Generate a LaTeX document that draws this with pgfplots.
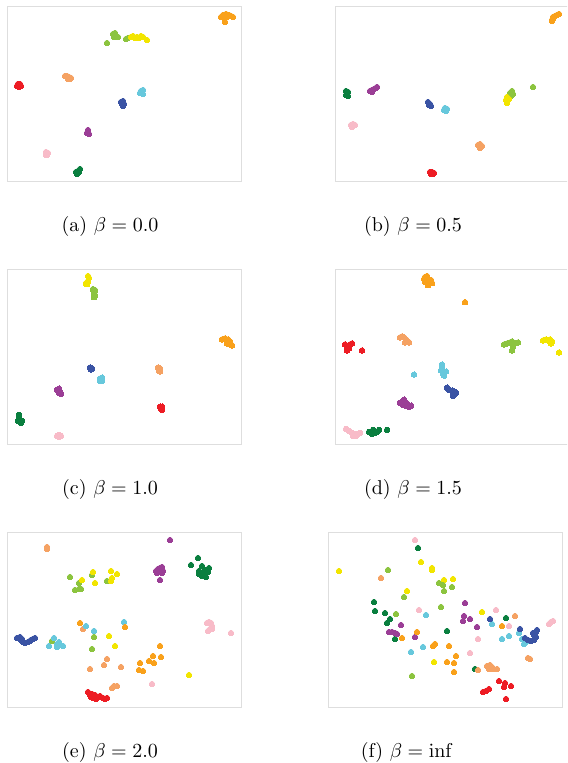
\documentclass[border=0pt]{standalone}
\usepackage{pgfplots}
\pgfplotsset{compat=1.18}
\definecolor{cred}{HTML}{ED1C24}
\definecolor{corange}{HTML}{F9A11B}
\definecolor{csalmon}{HTML}{F5A263}
\definecolor{cyellow}{HTML}{F2E500}
\definecolor{cygreen}{HTML}{8CC43F}
\definecolor{cdgreen}{HTML}{0A7F3F}
\definecolor{ccyan}{HTML}{67C8DC}
\definecolor{cblue}{HTML}{3A53A4}
\definecolor{cpurple}{HTML}{9B3E96}
\definecolor{cpink}{HTML}{F8BBC8}
\pgfplotsset{
  panel/.style={scale only axis, width=117pt, height=87.5pt, anchor=south west,
    y dir=reverse, xtick=\empty, ytick=\empty,
    axis line style={draw=black!13, line width=0.5pt}},
  pt/.style={only marks, mark=*, mark size=1.4pt, color=#1, mark options={draw=#1, fill=#1, line width=0pt}}
}
\begin{document}
\begin{tikzpicture}
\path[use as bounding box, clip] (0pt,0pt) rectangle (283.5pt,-381.5pt);
% (a)
\begin{axis}[panel, at={(3.5pt,-91pt)}, xmin=7, xmax=241, ymin=7, ymax=182]
\addplot[pt=corange] coordinates {(221,17)(223,15)(226,14)(229,15)(231,16)(233,17)(224,18)(227,17)(225,22)};
\addplot[pt=cygreen] coordinates {(113,34)(115,33)(116,36)(118,37)(114,37)(107,43)(126,39)(128,38)};
\addplot[pt=cyellow] coordinates {(131,37)(133,36)(135,38)(137,37)(139,38)(141,36)(143,37)(147,40)};
\addplot[pt=csalmon] coordinates {(65,76)(67,76)(69,77)(71,78)(68,79)(70,79)};
\addplot[pt=cred] coordinates {(18,84)(20,84)(17,86)(19,87)(21,86)};
\addplot[pt=ccyan] coordinates {(141,91)(143,90)(142,93)(140,93)(143,94)};
\addplot[pt=cblue] coordinates {(121,102)(123,101)(124,104)(123,106)(122,104)};
\addplot[pt=cpurple] coordinates {(88,130)(87,133)(89,134)};
\addplot[pt=cpink] coordinates {(46,152)(48,153)(46,155)(47,155)};
\addplot[pt=cdgreen] coordinates {(76,172)(78,171)(80,169)(77,174)(79,172)};
\end{axis}
% (b)
\begin{axis}[panel, at={(167.5pt,-91pt)}, xmin=335, xmax=569, ymin=7, ymax=182]
\addplot[pt=corange] coordinates {(552,20)(553,17)(555,16)(557,15)(559,14)(553,19)(552,21)};
\addplot[pt=cdgreen] coordinates {(346,91)(348,92)(346,95)(348,96)(347,94)};
\addplot[pt=cpurple] coordinates {(370,91)(372,90)(374,89)(376,88)(377,87)(372,92)};
\addplot[pt=cblue] coordinates {(428,102)(430,104)(431,106)(429,105)};
\addplot[pt=ccyan] coordinates {(445,108)(447,109)(446,111)(444,110)};
\addplot[pt=cygreen] coordinates {(510,93)(512,91)(513,94)(511,96)(533,87)};
\addplot[pt=cyellow] coordinates {(507,97)(509,99)(506,100)(507,103)};
\addplot[pt=cpink] coordinates {(351,125)(353,124)(355,125)(352,127)};
\addplot[pt=csalmon] coordinates {(478,145)(480,144)(482,146)(480,148)};
\addplot[pt=cred] coordinates {(430,172)(432,172)(434,173)(431,174)(433,174)};
\end{axis}
% (c)
\begin{axis}[panel, at={(3.5pt,-222pt)}, xmin=7, xmax=241, ymin=270, ymax=444]
\addplot[pt=cyellow] coordinates {(88,277)(89,279)(88,282)(86,284)(87,285)};
\addplot[pt=cygreen] coordinates {(93,290)(95,291)(94,294)(95,296)(94,298)};
\addplot[pt=corange] coordinates {(222,340)(225,339)(228,340)(230,342)(231,345)(227,344)(232,346)};
\addplot[pt=cblue] coordinates {(90,368)(92,369)(91,370)};
\addplot[pt=csalmon] coordinates {(158,368)(160,369)(159,371)(160,372)};
\addplot[pt=ccyan] coordinates {(100,379)(102,378)(102,381)(100,381)};
\addplot[pt=cpurple] coordinates {(57,390)(59,389)(60,392)(61,394)(59,393)};
\addplot[pt=cred] coordinates {(160,407)(162,407)(161,409)(162,410)};
\addplot[pt=cdgreen] coordinates {(19,415)(19,418)(18,421)(20,421)(21,423)(22,421)};
\addplot[pt=cpink] coordinates {(57,436)(59,435)(61,436)(59,437)};
\end{axis}
% (d)
\begin{axis}[panel, at={(167.5pt,-222pt)}, xmin=335, xmax=569, ymin=270, ymax=444]
\addplot[pt=corange] coordinates {(425,278)(427,277)(428,280)(431,281)(432,284)(428,286)(425,283)(424,280)(465,303)};
\addplot[pt=csalmon] coordinates {(400,338)(402,337)(404,338)(406,340)(408,342)(409,343)(405,343)};
\addplot[pt=cred] coordinates {(345,345)(347,347)(350,345)(352,344)(349,349)(347,351)(362,351)};
\addplot[pt=cygreen] coordinates {(504,345)(507,344)(510,343)(512,342)(515,344)(518,343)(513,347)(512,351)};
\addplot[pt=cyellow] coordinates {(543,341)(546,340)(548,341)(550,340)(552,342)(551,344)(559,353)};
\addplot[pt=ccyan] coordinates {(442,365)(442,368)(441,371)(443,374)(446,372)(444,376)(414,375)};
\addplot[pt=cblue] coordinates {(447,388)(449,390)(452,391)(454,392)(455,394)(453,396)(456,393)};
\addplot[pt=cpurple] coordinates {(400,403)(402,402)(404,400)(403,405)(406,406)(409,407)(411,406)(407,404)};
\addplot[pt=cpink] coordinates {(346,429)(349,431)(352,433)(355,434)(358,434)(360,433)(356,436)(353,436)};
\addplot[pt=cdgreen] coordinates {(369,432)(372,434)(375,433)(377,432)(379,430)(373,430)(387,430)};
\end{axis}
% (e)
\begin{axis}[panel, at={(3.5pt,-353.5pt)}, xmin=7, xmax=241, ymin=532, ymax=707]
\addplot[pt=csalmon] coordinates {(47,547)(47,549)(83,629)(107,659)(104,665)(90,669)(121,667)(112,688)(114,686)(117,686)};
\addplot[pt=cpurple] coordinates {(170,540)(156,571)(158,569)(160,568)(162,567)(163,571)(157,573)(160,572)(162,573)(160,580)};
\addplot[pt=cdgreen] coordinates {(198,558)(191,565)(202,566)(199,571)(199,574)(202,576)(205,574)(206,570)(208,572)(209,568)(206,577)(204,571)};
\addplot[pt=cygreen] coordinates {(70,577)(79,583)(75,590)(79,589)(81,589)(92,575)(107,581)(52,641)(94,637)(92,649)};
\addplot[pt=cyellow] coordinates {(82,580)(93,572)(95,583)(111,571)(117,574)(112,578)(111,581)(109,636)(115,646)(189,675)};
\addplot[pt=cpink] coordinates {(207,623)(209,622)(211,623)(212,626)(210,629)(208,631)(212,629)(231,633)(152,684)};
\addplot[pt=cblue] coordinates {(17,638)(20,637)(22,639)(23,642)(25,643)(28,642)(30,641)(31,640)(33,639)(35,638)(21,640)};
\addplot[pt=ccyan] coordinates {(54,638)(49,646)(57,644)(59,642)(57,647)(63,646)(86,626)(94,631)(124,622)};
\addplot[pt=corange] coordinates {(80,623)(125,627)(160,646)(153,656)(161,657)(149,661)(154,663)(140,663)(139,670)(143,671)};
\addplot[pt=cred] coordinates {(88,692)(90,695)(91,697)(93,698)(95,695)(96,699)(98,697)(100,696)(103,698)(105,699)(107,698)(92,694)(96,697)};
\end{axis}
% (f)
\begin{axis}[panel, at={(164pt,-353.5pt)}, xmin=328, xmax=562, ymin=532, ymax=707]
\addplot[pt=cpink] coordinates {(415,540)(419,610)(496,610)(509,626)(478,639)(470,653)(549,624)(551,622)(553,621)};
\addplot[pt=cdgreen] coordinates {(418,548)(374,602)(375,611)(385,613)(390,619)(387,623)(506,618)(395,639)(447,631)(475,669)};
\addplot[pt=cyellow] coordinates {(421,562)(432,568)(432,570)(339,571)(444,580)(453,579)(407,591)(482,612)(434,662)};
\addplot[pt=cygreen] coordinates {(388,570)(439,583)(443,585)(452,587)(444,591)(404,597)(396,614)(441,607)(412,676)};
\addplot[pt=csalmon] coordinates {(381,578)(515,616)(528,658)(530,659)(487,666)(490,665)(492,667)(489,669)(493,669)(497,669)(478,670)};
\addplot[pt=ccyan] coordinates {(426,615)(492,624)(502,639)(509,636)(519,633)(522,639)(524,644)(526,642)(423,647)(411,652)};
\addplot[pt=cpurple] coordinates {(465,603)(464,616)(470,619)(463,621)(401,625)(477,627)(389,632)(392,632)(395,633)(397,634)(415,637)};
\addplot[pt=cblue] coordinates {(490,619)(520,629)(525,638)(528,640)(531,641)(534,640)(533,633)(536,632)(537,630)(536,637)(534,635)};
\addplot[pt=corange] coordinates {(502,626)(417,632)(402,638)(433,646)(435,644)(449,646)(456,656)(447,662)(454,663)(454,672)};
\addplot[pt=cred] coordinates {(499,681)(505,683)(504,687)(511,686)(489,689)(486,691)(483,692)(506,699)};
\end{axis}
% captions
\node at (55pt,-113.5pt) {(a) $\beta = 0.0$};
\node at (206.5pt,-113.5pt) {(b) $\beta = 0.5$};
\node at (55pt,-244.5pt) {(c) $\beta = 1.0$};
\node at (206.5pt,-244.5pt) {(d) $\beta = 1.5$};
\node at (55pt,-376pt) {(e) $\beta = 2.0$};
\node at (203.5pt,-376pt) {(f) $\beta = \mathrm{inf}$};
\end{tikzpicture}
\end{document}
